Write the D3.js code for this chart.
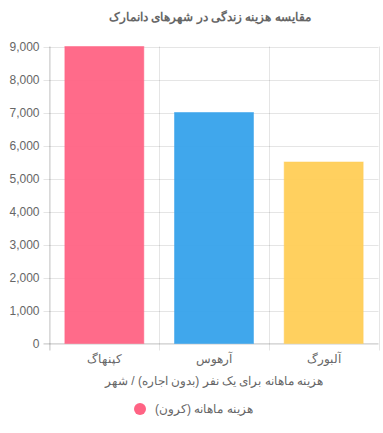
<!DOCTYPE html>
<html><head><meta charset="utf-8">
<script src="https://cdn.jsdelivr.net/npm/d3@7"></script>
<style>body{margin:0;background:#fff;}svg{display:block;font-family:"Liberation Sans",Arial,sans-serif;}</style>
</head><body><div id="c"></div>
<script>
const categories = ["کپنهاگ", "آرهوس", "آلبورگ"];
const values = [9000, 7000, 5500];
const colors = ["#ff6384", "#36a2eb", "#ffce56"];
const yTicks = [0,1000,2000,3000,4000,5000,6000,7000,8000,9000];
const title = "مقایسه هزینه زندگی در شهرهای دانمارک";
const xTitle = "هزینه ماهانه برای یک نفر (بدون اجاره) / شهر";
const legendLabel = "هزینه ماهانه (کرون)";

(function(){
const W = 383, H = 433;
const pL = 49.5, pR = 378.5, pT = 46.5, pB = 343.5;
const svg = d3.select("#c").append("svg").attr("width", W).attr("height", H);
const x = d3.scaleBand().domain(categories).range([pL, pR]).paddingInner(0).paddingOuter(0);
const y = d3.scaleLinear().domain([0, 9000]).range([pB, pT]);
const grid = "rgba(0,0,0,0.1)";

svg.append("g").selectAll("line").data(yTicks).join("line")
  .attr("x1", pL - 6).attr("x2", pR).attr("y1", d => Math.round(y(d)) + 0.5).attr("y2", d => Math.round(y(d)) + 0.5)
  .attr("stroke", grid).attr("stroke-width", 1);
const vx = categories.map(c => x(c)).concat([pR]);
svg.append("g").selectAll("line").data(vx).join("line")
  .attr("x1", d => Math.round(d) + 0.5).attr("x2", d => Math.round(d) + 0.5)
  .attr("y1", pT).attr("y2", pB + 7)
  .attr("stroke", grid).attr("stroke-width", 1);
svg.append("line").attr("x1", pL).attr("x2", pL).attr("y1", pT).attr("y2", pB + 7).attr("stroke", "rgba(0,0,0,0.15)");
svg.append("line").attr("x1", pL - 6).attr("x2", pR).attr("y1", pB).attr("y2", pB).attr("stroke", "rgba(0,0,0,0.15)");

svg.append("g").selectAll("text").data(yTicks).join("text")
  .attr("x", pL - 10).attr("y", d => y(d)).attr("dy", "0.35em")
  .attr("text-anchor", "end").attr("fill", "#666").attr("font-size", 12)
  .text(d => d3.format(",")(d));

const bw = x.bandwidth() * 0.72;
svg.append("g").selectAll("rect").data(values).join("rect")
  .attr("x", (d, i) => x(categories[i]) + (x.bandwidth() - bw) / 2)
  .attr("width", bw)
  .attr("y", d => y(d)).attr("height", d => pB - y(d))
  .attr("fill", (d, i) => colors[i]).attr("fill-opacity", 0.95)
  .attr("stroke", (d, i) => colors[i]).attr("stroke-opacity", 0.5).attr("stroke-width", 1);

svg.append("g").selectAll("text").data(categories).join("text")
  .attr("x", d => x(d) + x.bandwidth() / 2).attr("y", 363)
  .attr("text-anchor", "middle").attr("fill", "#666").attr("font-size", 12)
  .text(d => d);

svg.append("text").attr("x", (pL + pR) / 2).attr("y", 385).attr("text-anchor", "middle")
  .attr("fill", "#666").attr("font-size", 12).text(xTitle);

svg.append("text").attr("x", (pL + pR) / 2 - 4).attr("y", 21).attr("text-anchor", "middle")
  .attr("fill", "#666").attr("font-size", 12).attr("font-weight", "bold").text(title);

svg.append("circle").attr("cx", 140).attr("cy", 409).attr("r", 6).attr("fill", colors[0]);
svg.append("text").attr("x", 155).attr("y", 413).attr("text-anchor", "start")
  .attr("fill", "#666").attr("font-size", 12).text(legendLabel);
})();
</script></body></html>
